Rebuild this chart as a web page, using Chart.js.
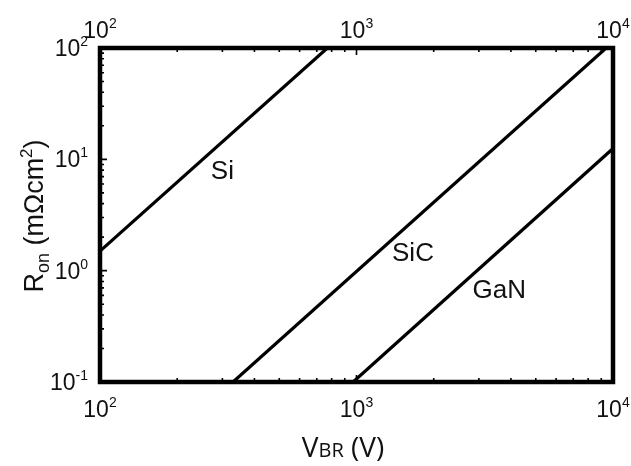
<!DOCTYPE html>
<html>
<head>
<meta charset="utf-8">
<script src="https://cdn.jsdelivr.net/npm/chart.js@4.4.1/dist/chart.umd.min.js"></script>
<style>
  html, body { margin: 0; padding: 0; background: #fff; }
  #wrap { width: 631px; height: 466px; }
</style>
</head>
<body>
<div id="wrap"><canvas id="ronChart" width="631" height="466"></canvas></div>
<script>
// --- data: breakdown voltage (V) vs specific on-resistance (mOhm cm^2) ---
const siV = [100, 770];
const siR = [1.5, 100];
const sicV = [330, 9400];
const sicR = [0.1, 100];
const ganV = [970, 10000];
const ganR = [0.1, 12.5];

const materialNames = ['Si', 'SiC', 'GaN'];
// where each material name sits (V, R)
const nameV = [300, 1660, 3600];
const nameR = [7.8, 1.42, 0.66];

const xDecades = [2, 3, 4];
const yDecades = [-1, 0, 1, 2];

const toPoints = (xs, ys) => xs.map((x, i) => ({ x: x, y: ys[i] }));

const FONT = '"Liberation Sans", Arial, sans-serif';

// draws "10" with a superscript exponent; align is 'center' or 'right'
const drawPow = (ctx, exp, x, baseline, align) => {
  const big = '23px ' + FONT;
  const small = '14px ' + FONT;
  ctx.font = big;
  const w1 = ctx.measureText('10').width;
  ctx.font = small;
  const w2 = ctx.measureText(String(exp)).width;
  const total = w1 + w2;
  const left = align === 'right' ? x - total : x - total / 2;
  ctx.textAlign = 'left';
  ctx.textBaseline = 'alphabetic';
  ctx.font = big;
  ctx.fillText('10', left, baseline);
  ctx.font = small;
  ctx.fillText(String(exp), left + w1, baseline - 10);
};

const framePlugin = {
  id: 'frameAndLabels',
  afterDraw(chart) {
    const ctx = chart.ctx;
    const xs = chart.scales.x;
    const ys = chart.scales.y;
    const a = chart.chartArea;
    ctx.save();
    ctx.fillStyle = '#111';
    ctx.strokeStyle = '#000';

    // inward ticks on bottom, top and left
    ctx.lineWidth = 1.6;
    ctx.beginPath();
    for (let d = 2; d < 4; d++) {
      for (let m = 1; m <= 9; m++) {
        const px = xs.getPixelForValue(m * Math.pow(10, d));
        const len = m === 1 ? 7 : 4;
        ctx.moveTo(px, a.bottom); ctx.lineTo(px, a.bottom - len);
        ctx.moveTo(px, a.top); ctx.lineTo(px, a.top + len);
      }
    }
    for (let d = -1; d < 2; d++) {
      for (let m = 1; m <= 9; m++) {
        const py = ys.getPixelForValue(m * Math.pow(10, d));
        const len = m === 1 ? 7 : 4;
        ctx.moveTo(a.left, py); ctx.lineTo(a.left + len, py);
      }
    }
    ctx.stroke();

    // heavy box
    ctx.lineWidth = 4.5;
    ctx.strokeRect(a.left, a.top, a.right - a.left, a.bottom - a.top);

    // tick labels
    xDecades.forEach(d => {
      const px = xs.getPixelForValue(Math.pow(10, d));
      drawPow(ctx, d, px, 417, 'center');
      drawPow(ctx, d, px, 38, 'center');
    });
    yDecades.forEach(d => {
      const py = ys.getPixelForValue(Math.pow(10, d));
      drawPow(ctx, d, 88, py + 8, 'right');
    });

    // material names
    ctx.font = '26px ' + FONT;
    ctx.textAlign = 'center';
    ctx.textBaseline = 'middle';
    materialNames.forEach((n, i) => {
      ctx.fillText(n, xs.getPixelForValue(nameV[i]), ys.getPixelForValue(nameR[i]));
    });

    // x title: V with small-caps BR
    const tf = '"Open Sans", "Liberation Sans", sans-serif';
    ctx.textBaseline = 'alphabetic';
    ctx.textAlign = 'left';
    const parts = [['V', '28px ' + tf], ['BR', '20px ' + tf], [' (V)', '28px ' + tf]];
    let tw = 0;
    parts.forEach(p => { ctx.font = p[1]; tw += ctx.measureText(p[0]).width; });
    let tx = 343 - tw / 2;
    parts.forEach(p => { ctx.font = p[1]; ctx.fillText(p[0], tx, 457); tx += ctx.measureText(p[0]).width; });

    // y title: R_on (mΩcm²), rotated
    ctx.translate(43, 216);
    ctx.rotate(-Math.PI / 2);
    const yParts = [['R', '27px ' + FONT, 0], ['on', '18px ' + FONT, 6], [' (m\u03A9cm', '27px ' + FONT, 0], ['2', '17px ' + FONT, -11], [')', '27px ' + FONT, 0]];
    tw = 0;
    yParts.forEach(p => { ctx.font = p[1]; tw += ctx.measureText(p[0]).width; });
    tx = -tw / 2;
    yParts.forEach(p => { ctx.font = p[1]; ctx.fillText(p[0], tx, p[2]); tx += ctx.measureText(p[0]).width; });

    ctx.restore();
  }
};

const lineSet = (pts) => ({
  data: pts,
  showLine: true,
  borderColor: '#000',
  borderWidth: 3.2,
  pointRadius: 0,
  fill: false
});

new Chart(document.getElementById('ronChart'), {
  type: 'scatter',
  data: {
    datasets: [
      lineSet(toPoints(siV, siR)),
      lineSet(toPoints(sicV, sicR)),
      lineSet(toPoints(ganV, ganR))
    ]
  },
  options: {
    responsive: false,
    animation: false,
    devicePixelRatio: 1,
    layout: { padding: { left: 100, right: 18, top: 48, bottom: 84 } },
    plugins: { legend: { display: false }, tooltip: { enabled: false } },
    scales: {
      x: { type: 'logarithmic', min: 100, max: 10000, display: false },
      y: { type: 'logarithmic', min: 0.1, max: 100, display: false }
    }
  },
  plugins: [framePlugin]
});
</script>
</body>
</html>
